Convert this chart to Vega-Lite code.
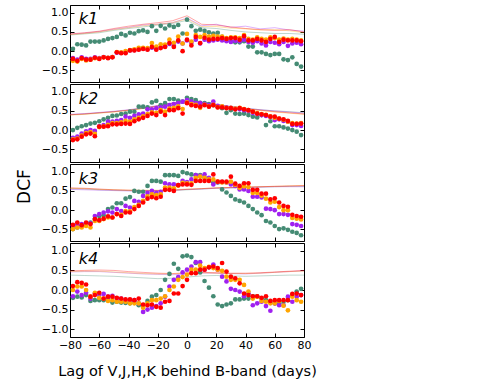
{
"$schema": "https://vega.github.io/schema/vega-lite/v6.json",
"padding": {"left": 14, "top": 4, "right": 5, "bottom": 5},
"spacing": 0,
"config": {
  "font": "DejaVu Sans",
  "view": {"stroke": "#000000", "strokeWidth": 1},
  "axis": {"domain": false, "grid": false, "tickColor": "#000000", "tickSize": -4, "tickWidth": 1, "labelColor": "#000000", "labelFontSize": 11, "labelPadding": 6, "labelOverlap": false, "labelFlush": false, "titleColor": "#000000", "titleFontWeight": "normal"},
  "concat": {"spacing": 0}
},
"datasets": {
"sig": [
{"k":1,"b":"V","x":-80,"y":0.42},{"k":1,"b":"V","x":-70,"y":0.45},{"k":1,"b":"V","x":-60,"y":0.48},{"k":1,"b":"V","x":-50,"y":0.54},{"k":1,"b":"V","x":-40,"y":0.59},{"k":1,"b":"V","x":-30,"y":0.63},{"k":1,"b":"V","x":-20,"y":0.68},{"k":1,"b":"V","x":-10,"y":0.72},{"k":1,"b":"V","x":0,"y":0.80},{"k":1,"b":"V","x":10,"y":0.61},{"k":1,"b":"V","x":20,"y":0.59},{"k":1,"b":"V","x":30,"y":0.54},{"k":1,"b":"V","x":40,"y":0.50},{"k":1,"b":"V","x":50,"y":0.48},{"k":1,"b":"V","x":60,"y":0.46},{"k":1,"b":"V","x":70,"y":0.46},{"k":1,"b":"V","x":80,"y":0.44},
{"k":1,"b":"J","x":-80,"y":0.44},{"k":1,"b":"J","x":-70,"y":0.47},{"k":1,"b":"J","x":-60,"y":0.51},{"k":1,"b":"J","x":-50,"y":0.57},{"k":1,"b":"J","x":-40,"y":0.62},{"k":1,"b":"J","x":-30,"y":0.68},{"k":1,"b":"J","x":-20,"y":0.70},{"k":1,"b":"J","x":-10,"y":0.74},{"k":1,"b":"J","x":0,"y":0.86},{"k":1,"b":"J","x":10,"y":0.66},{"k":1,"b":"J","x":20,"y":0.70},{"k":1,"b":"J","x":30,"y":0.62},{"k":1,"b":"J","x":40,"y":0.65},{"k":1,"b":"J","x":50,"y":0.58},{"k":1,"b":"J","x":60,"y":0.61},{"k":1,"b":"J","x":70,"y":0.55},{"k":1,"b":"J","x":80,"y":0.52},
{"k":1,"b":"H","x":-80,"y":0.43},{"k":1,"b":"H","x":-70,"y":0.46},{"k":1,"b":"H","x":-60,"y":0.50},{"k":1,"b":"H","x":-50,"y":0.56},{"k":1,"b":"H","x":-40,"y":0.61},{"k":1,"b":"H","x":-30,"y":0.66},{"k":1,"b":"H","x":-20,"y":0.70},{"k":1,"b":"H","x":-10,"y":0.74},{"k":1,"b":"H","x":0,"y":0.84},{"k":1,"b":"H","x":10,"y":0.64},{"k":1,"b":"H","x":20,"y":0.64},{"k":1,"b":"H","x":30,"y":0.60},{"k":1,"b":"H","x":40,"y":0.58},{"k":1,"b":"H","x":50,"y":0.55},{"k":1,"b":"H","x":60,"y":0.56},{"k":1,"b":"H","x":70,"y":0.53},{"k":1,"b":"H","x":80,"y":0.48},
{"k":1,"b":"K","x":-80,"y":0.45},{"k":1,"b":"K","x":-70,"y":0.48},{"k":1,"b":"K","x":-60,"y":0.52},{"k":1,"b":"K","x":-50,"y":0.59},{"k":1,"b":"K","x":-40,"y":0.65},{"k":1,"b":"K","x":-30,"y":0.70},{"k":1,"b":"K","x":-20,"y":0.74},{"k":1,"b":"K","x":-10,"y":0.79},{"k":1,"b":"K","x":0,"y":0.92},{"k":1,"b":"K","x":10,"y":0.70},{"k":1,"b":"K","x":20,"y":0.68},{"k":1,"b":"K","x":30,"y":0.63},{"k":1,"b":"K","x":40,"y":0.59},{"k":1,"b":"K","x":50,"y":0.56},{"k":1,"b":"K","x":60,"y":0.54},{"k":1,"b":"K","x":70,"y":0.56},{"k":1,"b":"K","x":80,"y":0.50},
{"k":2,"b":"V","x":-80,"y":0.40},{"k":2,"b":"V","x":-70,"y":0.42},{"k":2,"b":"V","x":-60,"y":0.45},{"k":2,"b":"V","x":-50,"y":0.48},{"k":2,"b":"V","x":-40,"y":0.52},{"k":2,"b":"V","x":-30,"y":0.57},{"k":2,"b":"V","x":-20,"y":0.63},{"k":2,"b":"V","x":-10,"y":0.70},{"k":2,"b":"V","x":0,"y":0.76},{"k":2,"b":"V","x":10,"y":0.72},{"k":2,"b":"V","x":20,"y":0.66},{"k":2,"b":"V","x":30,"y":0.61},{"k":2,"b":"V","x":40,"y":0.57},{"k":2,"b":"V","x":50,"y":0.53},{"k":2,"b":"V","x":60,"y":0.50},{"k":2,"b":"V","x":70,"y":0.48},{"k":2,"b":"V","x":80,"y":0.45},
{"k":2,"b":"J","x":-80,"y":0.41},{"k":2,"b":"J","x":-70,"y":0.43},{"k":2,"b":"J","x":-60,"y":0.46},{"k":2,"b":"J","x":-50,"y":0.49},{"k":2,"b":"J","x":-40,"y":0.53},{"k":2,"b":"J","x":-30,"y":0.58},{"k":2,"b":"J","x":-20,"y":0.64},{"k":2,"b":"J","x":-10,"y":0.71},{"k":2,"b":"J","x":0,"y":0.77},{"k":2,"b":"J","x":10,"y":0.73},{"k":2,"b":"J","x":20,"y":0.67},{"k":2,"b":"J","x":30,"y":0.61},{"k":2,"b":"J","x":40,"y":0.57},{"k":2,"b":"J","x":50,"y":0.53},{"k":2,"b":"J","x":60,"y":0.50},{"k":2,"b":"J","x":70,"y":0.47},{"k":2,"b":"J","x":80,"y":0.44},
{"k":2,"b":"H","x":-80,"y":0.39},{"k":2,"b":"H","x":-70,"y":0.41},{"k":2,"b":"H","x":-60,"y":0.44},{"k":2,"b":"H","x":-50,"y":0.47},{"k":2,"b":"H","x":-40,"y":0.51},{"k":2,"b":"H","x":-30,"y":0.56},{"k":2,"b":"H","x":-20,"y":0.62},{"k":2,"b":"H","x":-10,"y":0.69},{"k":2,"b":"H","x":0,"y":0.75},{"k":2,"b":"H","x":10,"y":0.71},{"k":2,"b":"H","x":20,"y":0.65},{"k":2,"b":"H","x":30,"y":0.60},{"k":2,"b":"H","x":40,"y":0.55},{"k":2,"b":"H","x":50,"y":0.51},{"k":2,"b":"H","x":60,"y":0.47},{"k":2,"b":"H","x":70,"y":0.44},{"k":2,"b":"H","x":80,"y":0.41},
{"k":2,"b":"K","x":-80,"y":0.40},{"k":2,"b":"K","x":-70,"y":0.42},{"k":2,"b":"K","x":-60,"y":0.45},{"k":2,"b":"K","x":-50,"y":0.48},{"k":2,"b":"K","x":-40,"y":0.52},{"k":2,"b":"K","x":-30,"y":0.57},{"k":2,"b":"K","x":-20,"y":0.63},{"k":2,"b":"K","x":-10,"y":0.70},{"k":2,"b":"K","x":0,"y":0.76},{"k":2,"b":"K","x":10,"y":0.72},{"k":2,"b":"K","x":20,"y":0.66},{"k":2,"b":"K","x":30,"y":0.60},{"k":2,"b":"K","x":40,"y":0.55},{"k":2,"b":"K","x":50,"y":0.52},{"k":2,"b":"K","x":60,"y":0.48},{"k":2,"b":"K","x":70,"y":0.45},{"k":2,"b":"K","x":80,"y":0.42},
{"k":3,"b":"V","x":-80,"y":0.56},{"k":3,"b":"V","x":-70,"y":0.55},{"k":3,"b":"V","x":-60,"y":0.53},{"k":3,"b":"V","x":-50,"y":0.52},{"k":3,"b":"V","x":-40,"y":0.51},{"k":3,"b":"V","x":-30,"y":0.50},{"k":3,"b":"V","x":-20,"y":0.50},{"k":3,"b":"V","x":-10,"y":0.51},{"k":3,"b":"V","x":0,"y":0.53},{"k":3,"b":"V","x":10,"y":0.55},{"k":3,"b":"V","x":20,"y":0.57},{"k":3,"b":"V","x":30,"y":0.58},{"k":3,"b":"V","x":40,"y":0.59},{"k":3,"b":"V","x":50,"y":0.60},{"k":3,"b":"V","x":60,"y":0.61},{"k":3,"b":"V","x":70,"y":0.62},{"k":3,"b":"V","x":80,"y":0.62},
{"k":3,"b":"J","x":-80,"y":0.54},{"k":3,"b":"J","x":-70,"y":0.53},{"k":3,"b":"J","x":-60,"y":0.52},{"k":3,"b":"J","x":-50,"y":0.51},{"k":3,"b":"J","x":-40,"y":0.50},{"k":3,"b":"J","x":-30,"y":0.50},{"k":3,"b":"J","x":-20,"y":0.51},{"k":3,"b":"J","x":-10,"y":0.52},{"k":3,"b":"J","x":0,"y":0.54},{"k":3,"b":"J","x":10,"y":0.55},{"k":3,"b":"J","x":20,"y":0.57},{"k":3,"b":"J","x":30,"y":0.58},{"k":3,"b":"J","x":40,"y":0.59},{"k":3,"b":"J","x":50,"y":0.60},{"k":3,"b":"J","x":60,"y":0.61},{"k":3,"b":"J","x":70,"y":0.61},{"k":3,"b":"J","x":80,"y":0.61},
{"k":3,"b":"H","x":-80,"y":0.57},{"k":3,"b":"H","x":-70,"y":0.56},{"k":3,"b":"H","x":-60,"y":0.54},{"k":3,"b":"H","x":-50,"y":0.53},{"k":3,"b":"H","x":-40,"y":0.52},{"k":3,"b":"H","x":-30,"y":0.52},{"k":3,"b":"H","x":-20,"y":0.52},{"k":3,"b":"H","x":-10,"y":0.53},{"k":3,"b":"H","x":0,"y":0.55},{"k":3,"b":"H","x":10,"y":0.56},{"k":3,"b":"H","x":20,"y":0.58},{"k":3,"b":"H","x":30,"y":0.59},{"k":3,"b":"H","x":40,"y":0.60},{"k":3,"b":"H","x":50,"y":0.61},{"k":3,"b":"H","x":60,"y":0.62},{"k":3,"b":"H","x":70,"y":0.63},{"k":3,"b":"H","x":80,"y":0.64},
{"k":3,"b":"K","x":-80,"y":0.58},{"k":3,"b":"K","x":-70,"y":0.57},{"k":3,"b":"K","x":-60,"y":0.55},{"k":3,"b":"K","x":-50,"y":0.53},{"k":3,"b":"K","x":-40,"y":0.52},{"k":3,"b":"K","x":-30,"y":0.51},{"k":3,"b":"K","x":-20,"y":0.51},{"k":3,"b":"K","x":-10,"y":0.52},{"k":3,"b":"K","x":0,"y":0.54},{"k":3,"b":"K","x":10,"y":0.56},{"k":3,"b":"K","x":20,"y":0.58},{"k":3,"b":"K","x":30,"y":0.59},{"k":3,"b":"K","x":40,"y":0.60},{"k":3,"b":"K","x":50,"y":0.61},{"k":3,"b":"K","x":60,"y":0.62},{"k":3,"b":"K","x":70,"y":0.63},{"k":3,"b":"K","x":80,"y":0.64},
{"k":4,"b":"V","x":-80,"y":0.38},{"k":4,"b":"V","x":-70,"y":0.37},{"k":4,"b":"V","x":-60,"y":0.36},{"k":4,"b":"V","x":-50,"y":0.35},{"k":4,"b":"V","x":-40,"y":0.33},{"k":4,"b":"V","x":-30,"y":0.31},{"k":4,"b":"V","x":-20,"y":0.29},{"k":4,"b":"V","x":-10,"y":0.30},{"k":4,"b":"V","x":0,"y":0.33},{"k":4,"b":"V","x":10,"y":0.36},{"k":4,"b":"V","x":20,"y":0.37},{"k":4,"b":"V","x":30,"y":0.36},{"k":4,"b":"V","x":40,"y":0.35},{"k":4,"b":"V","x":50,"y":0.36},{"k":4,"b":"V","x":60,"y":0.37},{"k":4,"b":"V","x":70,"y":0.38},{"k":4,"b":"V","x":80,"y":0.38},
{"k":4,"b":"J","x":-80,"y":0.46},{"k":4,"b":"J","x":-70,"y":0.47},{"k":4,"b":"J","x":-60,"y":0.47},{"k":4,"b":"J","x":-50,"y":0.45},{"k":4,"b":"J","x":-40,"y":0.43},{"k":4,"b":"J","x":-30,"y":0.41},{"k":4,"b":"J","x":-20,"y":0.40},{"k":4,"b":"J","x":-10,"y":0.39},{"k":4,"b":"J","x":0,"y":0.41},{"k":4,"b":"J","x":10,"y":0.43},{"k":4,"b":"J","x":20,"y":0.43},{"k":4,"b":"J","x":30,"y":0.42},{"k":4,"b":"J","x":40,"y":0.41},{"k":4,"b":"J","x":50,"y":0.43},{"k":4,"b":"J","x":60,"y":0.45},{"k":4,"b":"J","x":70,"y":0.47},{"k":4,"b":"J","x":80,"y":0.49},
{"k":4,"b":"H","x":-80,"y":0.47},{"k":4,"b":"H","x":-70,"y":0.48},{"k":4,"b":"H","x":-60,"y":0.48},{"k":4,"b":"H","x":-50,"y":0.46},{"k":4,"b":"H","x":-40,"y":0.44},{"k":4,"b":"H","x":-30,"y":0.42},{"k":4,"b":"H","x":-20,"y":0.41},{"k":4,"b":"H","x":-10,"y":0.41},{"k":4,"b":"H","x":0,"y":0.43},{"k":4,"b":"H","x":10,"y":0.44},{"k":4,"b":"H","x":20,"y":0.43},{"k":4,"b":"H","x":30,"y":0.42},{"k":4,"b":"H","x":40,"y":0.42},{"k":4,"b":"H","x":50,"y":0.43},{"k":4,"b":"H","x":60,"y":0.45},{"k":4,"b":"H","x":70,"y":0.47},{"k":4,"b":"H","x":80,"y":0.48},
{"k":4,"b":"K","x":-80,"y":0.49},{"k":4,"b":"K","x":-70,"y":0.50},{"k":4,"b":"K","x":-60,"y":0.51},{"k":4,"b":"K","x":-50,"y":0.50},{"k":4,"b":"K","x":-40,"y":0.47},{"k":4,"b":"K","x":-30,"y":0.45},{"k":4,"b":"K","x":-20,"y":0.43},{"k":4,"b":"K","x":-10,"y":0.42},{"k":4,"b":"K","x":0,"y":0.44},{"k":4,"b":"K","x":10,"y":0.45},{"k":4,"b":"K","x":20,"y":0.44},{"k":4,"b":"K","x":30,"y":0.43},{"k":4,"b":"K","x":40,"y":0.43},{"k":4,"b":"K","x":50,"y":0.44},{"k":4,"b":"K","x":60,"y":0.46},{"k":4,"b":"K","x":70,"y":0.48},{"k":4,"b":"K","x":80,"y":0.50}
],
"pts": [
{"k":1,"b":"V","x":-78,"y":0.06},{"k":1,"b":"V","x":-75,"y":0.18},{"k":1,"b":"V","x":-72,"y":0.17},{"k":1,"b":"V","x":-69,"y":0.15},{"k":1,"b":"V","x":-66,"y":0.25},{"k":1,"b":"V","x":-63,"y":0.25},{"k":1,"b":"V","x":-60,"y":0.25},{"k":1,"b":"V","x":-57,"y":0.28},{"k":1,"b":"V","x":-54,"y":0.32},{"k":1,"b":"V","x":-51,"y":0.34},
{"k":1,"b":"V","x":-48,"y":0.37},{"k":1,"b":"V","x":-45,"y":0.45},{"k":1,"b":"V","x":-42,"y":0.41},{"k":1,"b":"V","x":-39,"y":0.48},{"k":1,"b":"V","x":-36,"y":0.46},{"k":1,"b":"V","x":-33,"y":0.52},{"k":1,"b":"V","x":-30,"y":0.54},{"k":1,"b":"V","x":-27,"y":0.50},{"k":1,"b":"V","x":-24,"y":0.65},{"k":1,"b":"V","x":-21,"y":0.53},
{"k":1,"b":"V","x":-18,"y":0.66},{"k":1,"b":"V","x":-15,"y":0.59},{"k":1,"b":"V","x":-12,"y":0.67},{"k":1,"b":"V","x":-9,"y":0.63},{"k":1,"b":"V","x":-6,"y":0.68},{"k":1,"b":"V","x":-3,"y":0.46},{"k":1,"b":"V","x":0,"y":0.82},{"k":1,"b":"V","x":3,"y":0.65},{"k":1,"b":"V","x":6,"y":0.53},{"k":1,"b":"V","x":9,"y":0.56},
{"k":1,"b":"V","x":12,"y":0.53},{"k":1,"b":"V","x":15,"y":0.49},{"k":1,"b":"V","x":18,"y":0.46},{"k":1,"b":"V","x":21,"y":0.48},{"k":1,"b":"V","x":24,"y":0.37},{"k":1,"b":"V","x":27,"y":0.30},{"k":1,"b":"V","x":30,"y":0.25},{"k":1,"b":"V","x":33,"y":0.23},{"k":1,"b":"V","x":36,"y":0.23},{"k":1,"b":"V","x":39,"y":0.26},
{"k":1,"b":"V","x":42,"y":0.12},{"k":1,"b":"V","x":45,"y":0.12},{"k":1,"b":"V","x":48,"y":-0.03},{"k":1,"b":"V","x":51,"y":-0.03},{"k":1,"b":"V","x":54,"y":-0.07},{"k":1,"b":"V","x":57,"y":-0.10},{"k":1,"b":"V","x":60,"y":-0.07},{"k":1,"b":"V","x":63,"y":-0.07},{"k":1,"b":"V","x":66,"y":-0.21},{"k":1,"b":"V","x":69,"y":-0.23},
{"k":1,"b":"V","x":72,"y":-0.16},{"k":1,"b":"V","x":75,"y":-0.33},{"k":1,"b":"V","x":78,"y":-0.40},
{"k":1,"b":"J","x":-78,"y":-0.18},{"k":1,"b":"J","x":-75,"y":-0.22},{"k":1,"b":"J","x":-72,"y":-0.16},{"k":1,"b":"J","x":-69,"y":-0.20},{"k":1,"b":"J","x":-66,"y":-0.20},{"k":1,"b":"J","x":-63,"y":-0.16},{"k":1,"b":"J","x":-60,"y":-0.18},{"k":1,"b":"J","x":-57,"y":-0.15},{"k":1,"b":"J","x":-54,"y":-0.17},{"k":1,"b":"J","x":-51,"y":-0.15},
{"k":1,"b":"J","x":-48,"y":-0.04},{"k":1,"b":"J","x":-45,"y":-0.04},{"k":1,"b":"J","x":-42,"y":-0.03},{"k":1,"b":"J","x":-39,"y":0.02},{"k":1,"b":"J","x":-36,"y":0.03},{"k":1,"b":"J","x":-33,"y":0.05},{"k":1,"b":"J","x":-30,"y":0.07},{"k":1,"b":"J","x":-27,"y":0.05},{"k":1,"b":"J","x":-24,"y":0.09},{"k":1,"b":"J","x":-21,"y":0.06},
{"k":1,"b":"J","x":-18,"y":0.10},{"k":1,"b":"J","x":-15,"y":0.13},{"k":1,"b":"J","x":-12,"y":0.19},{"k":1,"b":"J","x":-9,"y":0.14},{"k":1,"b":"J","x":-6,"y":0.25},{"k":1,"b":"J","x":-3,"y":0.20},{"k":1,"b":"J","x":0,"y":0.28},{"k":1,"b":"J","x":3,"y":0.22},{"k":1,"b":"J","x":6,"y":0.30},{"k":1,"b":"J","x":9,"y":0.20},
{"k":1,"b":"J","x":12,"y":0.30},{"k":1,"b":"J","x":15,"y":0.26},{"k":1,"b":"J","x":18,"y":0.28},{"k":1,"b":"J","x":21,"y":0.30},{"k":1,"b":"J","x":24,"y":0.28},{"k":1,"b":"J","x":27,"y":0.26},{"k":1,"b":"J","x":30,"y":0.24},{"k":1,"b":"J","x":33,"y":0.27},{"k":1,"b":"J","x":36,"y":0.26},{"k":1,"b":"J","x":39,"y":0.30},
{"k":1,"b":"J","x":42,"y":0.24},{"k":1,"b":"J","x":45,"y":0.22},{"k":1,"b":"J","x":48,"y":0.26},{"k":1,"b":"J","x":51,"y":0.20},{"k":1,"b":"J","x":54,"y":0.15},{"k":1,"b":"J","x":57,"y":0.24},{"k":1,"b":"J","x":60,"y":0.22},{"k":1,"b":"J","x":63,"y":0.18},{"k":1,"b":"J","x":66,"y":0.24},{"k":1,"b":"J","x":69,"y":0.14},
{"k":1,"b":"J","x":72,"y":0.20},{"k":1,"b":"J","x":75,"y":0.22},{"k":1,"b":"J","x":78,"y":0.18},
{"k":1,"b":"H","x":-78,"y":-0.25},{"k":1,"b":"H","x":-75,"y":-0.27},{"k":1,"b":"H","x":-72,"y":-0.20},{"k":1,"b":"H","x":-69,"y":-0.24},{"k":1,"b":"H","x":-66,"y":-0.22},{"k":1,"b":"H","x":-63,"y":-0.18},{"k":1,"b":"H","x":-60,"y":-0.19},{"k":1,"b":"H","x":-57,"y":-0.16},{"k":1,"b":"H","x":-54,"y":-0.17},{"k":1,"b":"H","x":-51,"y":-0.15},
{"k":1,"b":"H","x":-48,"y":-0.02},{"k":1,"b":"H","x":-45,"y":-0.03},{"k":1,"b":"H","x":-42,"y":0},{"k":1,"b":"H","x":-39,"y":0.03},{"k":1,"b":"H","x":-36,"y":0.05},{"k":1,"b":"H","x":-33,"y":0.09},{"k":1,"b":"H","x":-30,"y":0.09},{"k":1,"b":"H","x":-27,"y":0.08},{"k":1,"b":"H","x":-24,"y":0.21},{"k":1,"b":"H","x":-21,"y":0.12},
{"k":1,"b":"H","x":-18,"y":0.18},{"k":1,"b":"H","x":-15,"y":0.17},{"k":1,"b":"H","x":-12,"y":0.30},{"k":1,"b":"H","x":-9,"y":0.22},{"k":1,"b":"H","x":-6,"y":0.38},{"k":1,"b":"H","x":-3,"y":0.20},{"k":1,"b":"H","x":0,"y":0.45},{"k":1,"b":"H","x":3,"y":0.25},{"k":1,"b":"H","x":6,"y":0.42},{"k":1,"b":"H","x":9,"y":0.37},
{"k":1,"b":"H","x":12,"y":0.42},{"k":1,"b":"H","x":15,"y":0.38},{"k":1,"b":"H","x":18,"y":0.40},{"k":1,"b":"H","x":21,"y":0.38},{"k":1,"b":"H","x":24,"y":0.38},{"k":1,"b":"H","x":27,"y":0.34},{"k":1,"b":"H","x":30,"y":0.36},{"k":1,"b":"H","x":33,"y":0.36},{"k":1,"b":"H","x":36,"y":0.34},{"k":1,"b":"H","x":39,"y":0.42},
{"k":1,"b":"H","x":42,"y":0.32},{"k":1,"b":"H","x":45,"y":0.30},{"k":1,"b":"H","x":48,"y":0.36},{"k":1,"b":"H","x":51,"y":0.32},{"k":1,"b":"H","x":54,"y":0.30},{"k":1,"b":"H","x":57,"y":0.36},{"k":1,"b":"H","x":60,"y":0.34},{"k":1,"b":"H","x":63,"y":0.30},{"k":1,"b":"H","x":66,"y":0.33},{"k":1,"b":"H","x":69,"y":0.30},
{"k":1,"b":"H","x":72,"y":0.32},{"k":1,"b":"H","x":75,"y":0.30},{"k":1,"b":"H","x":78,"y":0.28},
{"k":1,"b":"K","x":-78,"y":-0.20},{"k":1,"b":"K","x":-75,"y":-0.25},{"k":1,"b":"K","x":-72,"y":-0.18},{"k":1,"b":"K","x":-69,"y":-0.22},{"k":1,"b":"K","x":-66,"y":-0.22},{"k":1,"b":"K","x":-63,"y":-0.17},{"k":1,"b":"K","x":-60,"y":-0.20},{"k":1,"b":"K","x":-57,"y":-0.16},{"k":1,"b":"K","x":-54,"y":-0.18},{"k":1,"b":"K","x":-51,"y":-0.16},
{"k":1,"b":"K","x":-48,"y":-0.03},{"k":1,"b":"K","x":-45,"y":-0.05},{"k":1,"b":"K","x":-42,"y":-0.05},{"k":1,"b":"K","x":-39,"y":0.02},{"k":1,"b":"K","x":-36,"y":0.02},{"k":1,"b":"K","x":-33,"y":0.04},{"k":1,"b":"K","x":-30,"y":0.06},{"k":1,"b":"K","x":-27,"y":0.04},{"k":1,"b":"K","x":-24,"y":0.11},{"k":1,"b":"K","x":-21,"y":0.04},
{"k":1,"b":"K","x":-18,"y":0.08},{"k":1,"b":"K","x":-15,"y":0.11},{"k":1,"b":"K","x":-12,"y":0.21},{"k":1,"b":"K","x":-9,"y":0.11},{"k":1,"b":"K","x":-6,"y":0.28},{"k":1,"b":"K","x":-3,"y":0},{"k":1,"b":"K","x":0,"y":0.30},{"k":1,"b":"K","x":3,"y":0.15},{"k":1,"b":"K","x":6,"y":0.37},{"k":1,"b":"K","x":9,"y":0.21},
{"k":1,"b":"K","x":12,"y":0.35},{"k":1,"b":"K","x":15,"y":0.30},{"k":1,"b":"K","x":18,"y":0.32},{"k":1,"b":"K","x":21,"y":0.32},{"k":1,"b":"K","x":24,"y":0.34},{"k":1,"b":"K","x":27,"y":0.32},{"k":1,"b":"K","x":30,"y":0.34},{"k":1,"b":"K","x":33,"y":0.34},{"k":1,"b":"K","x":36,"y":0.30},{"k":1,"b":"K","x":39,"y":0.39},
{"k":1,"b":"K","x":42,"y":0.28},{"k":1,"b":"K","x":45,"y":0.28},{"k":1,"b":"K","x":48,"y":0.32},{"k":1,"b":"K","x":51,"y":0.28},{"k":1,"b":"K","x":54,"y":0.24},{"k":1,"b":"K","x":57,"y":0.32},{"k":1,"b":"K","x":60,"y":0.37},{"k":1,"b":"K","x":63,"y":0.24},{"k":1,"b":"K","x":66,"y":0.30},{"k":1,"b":"K","x":69,"y":0.28},
{"k":1,"b":"K","x":72,"y":0.28},{"k":1,"b":"K","x":75,"y":0.28},{"k":1,"b":"K","x":78,"y":0.26},
{"k":2,"b":"V","x":-78,"y":0},{"k":2,"b":"V","x":-75,"y":0.06},{"k":2,"b":"V","x":-72,"y":0.10},{"k":2,"b":"V","x":-69,"y":0.13},{"k":2,"b":"V","x":-66,"y":0.17},{"k":2,"b":"V","x":-63,"y":0.19},{"k":2,"b":"V","x":-60,"y":0.23},{"k":2,"b":"V","x":-57,"y":0.28},{"k":2,"b":"V","x":-54,"y":0.32},{"k":2,"b":"V","x":-51,"y":0.37},
{"k":2,"b":"V","x":-48,"y":0.38},{"k":2,"b":"V","x":-45,"y":0.42},{"k":2,"b":"V","x":-42,"y":0.43},{"k":2,"b":"V","x":-39,"y":0.48},{"k":2,"b":"V","x":-36,"y":0.48},{"k":2,"b":"V","x":-33,"y":0.61},{"k":2,"b":"V","x":-30,"y":0.61},{"k":2,"b":"V","x":-27,"y":0.59},{"k":2,"b":"V","x":-24,"y":0.72},{"k":2,"b":"V","x":-21,"y":0.76},
{"k":2,"b":"V","x":-18,"y":0.65},{"k":2,"b":"V","x":-15,"y":0.70},{"k":2,"b":"V","x":-12,"y":0.81},{"k":2,"b":"V","x":-9,"y":0.81},{"k":2,"b":"V","x":-6,"y":0.77},{"k":2,"b":"V","x":-3,"y":0.74},{"k":2,"b":"V","x":0,"y":0.84},{"k":2,"b":"V","x":3,"y":0.81},{"k":2,"b":"V","x":6,"y":0.78},{"k":2,"b":"V","x":9,"y":0.71},
{"k":2,"b":"V","x":12,"y":0.70},{"k":2,"b":"V","x":15,"y":0.68},{"k":2,"b":"V","x":18,"y":0.65},{"k":2,"b":"V","x":21,"y":0.61},{"k":2,"b":"V","x":24,"y":0.57},{"k":2,"b":"V","x":27,"y":0.45},{"k":2,"b":"V","x":30,"y":0.52},{"k":2,"b":"V","x":33,"y":0.43},{"k":2,"b":"V","x":36,"y":0.42},{"k":2,"b":"V","x":39,"y":0.43},
{"k":2,"b":"V","x":42,"y":0.39},{"k":2,"b":"V","x":45,"y":0.35},{"k":2,"b":"V","x":48,"y":0.33},{"k":2,"b":"V","x":51,"y":0.39},{"k":2,"b":"V","x":54,"y":0.13},{"k":2,"b":"V","x":57,"y":0.23},{"k":2,"b":"V","x":60,"y":0.10},{"k":2,"b":"V","x":63,"y":0.10},{"k":2,"b":"V","x":66,"y":0.07},{"k":2,"b":"V","x":69,"y":0.04},
{"k":2,"b":"V","x":72,"y":0},{"k":2,"b":"V","x":75,"y":-0.04},{"k":2,"b":"V","x":78,"y":-0.13},
{"k":2,"b":"J","x":-78,"y":-0.20},{"k":2,"b":"J","x":-75,"y":-0.17},{"k":2,"b":"J","x":-72,"y":-0.09},{"k":2,"b":"J","x":-69,"y":-0.03},{"k":2,"b":"J","x":-66,"y":0},{"k":2,"b":"J","x":-63,"y":-0.02},{"k":2,"b":"J","x":-60,"y":0.10},{"k":2,"b":"J","x":-57,"y":0.13},{"k":2,"b":"J","x":-54,"y":0.22},{"k":2,"b":"J","x":-51,"y":0.22},
{"k":2,"b":"J","x":-48,"y":0.24},{"k":2,"b":"J","x":-45,"y":0.26},{"k":2,"b":"J","x":-42,"y":0.35},{"k":2,"b":"J","x":-39,"y":0.32},{"k":2,"b":"J","x":-36,"y":0.37},{"k":2,"b":"J","x":-33,"y":0.41},{"k":2,"b":"J","x":-30,"y":0.43},{"k":2,"b":"J","x":-27,"y":0.54},{"k":2,"b":"J","x":-24,"y":0.54},{"k":2,"b":"J","x":-21,"y":0.57},
{"k":2,"b":"J","x":-18,"y":0.59},{"k":2,"b":"J","x":-15,"y":0.61},{"k":2,"b":"J","x":-12,"y":0.65},{"k":2,"b":"J","x":-9,"y":0.68},{"k":2,"b":"J","x":-6,"y":0.70},{"k":2,"b":"J","x":-3,"y":0.74},{"k":2,"b":"J","x":0,"y":0.78},{"k":2,"b":"J","x":3,"y":0.74},{"k":2,"b":"J","x":6,"y":0.70},{"k":2,"b":"J","x":9,"y":0.70},
{"k":2,"b":"J","x":12,"y":0.68},{"k":2,"b":"J","x":15,"y":0.65},{"k":2,"b":"J","x":18,"y":0.74},{"k":2,"b":"J","x":21,"y":0.63},{"k":2,"b":"J","x":24,"y":0.61},{"k":2,"b":"J","x":27,"y":0.59},{"k":2,"b":"J","x":30,"y":0.58},{"k":2,"b":"J","x":33,"y":0.56},{"k":2,"b":"J","x":36,"y":0.54},{"k":2,"b":"J","x":39,"y":0.52},
{"k":2,"b":"J","x":42,"y":0.50},{"k":2,"b":"J","x":45,"y":0.45},{"k":2,"b":"J","x":48,"y":0.42},{"k":2,"b":"J","x":51,"y":0.39},{"k":2,"b":"J","x":54,"y":0.37},{"k":2,"b":"J","x":57,"y":0.35},{"k":2,"b":"J","x":60,"y":0.26},{"k":2,"b":"J","x":63,"y":0.28},{"k":2,"b":"J","x":66,"y":0.24},{"k":2,"b":"J","x":69,"y":0.22},
{"k":2,"b":"J","x":72,"y":0.13},{"k":2,"b":"J","x":75,"y":0.13},{"k":2,"b":"J","x":78,"y":0.11},
{"k":2,"b":"H","x":-78,"y":-0.24},{"k":2,"b":"H","x":-75,"y":-0.22},{"k":2,"b":"H","x":-72,"y":-0.14},{"k":2,"b":"H","x":-69,"y":-0.08},{"k":2,"b":"H","x":-66,"y":-0.05},{"k":2,"b":"H","x":-63,"y":-0.10},{"k":2,"b":"H","x":-60,"y":0.08},{"k":2,"b":"H","x":-57,"y":0.10},{"k":2,"b":"H","x":-54,"y":0.14},{"k":2,"b":"H","x":-51,"y":0.18},
{"k":2,"b":"H","x":-48,"y":0.18},{"k":2,"b":"H","x":-45,"y":0.20},{"k":2,"b":"H","x":-42,"y":0.24},{"k":2,"b":"H","x":-39,"y":0.22},{"k":2,"b":"H","x":-36,"y":0.28},{"k":2,"b":"H","x":-33,"y":0.32},{"k":2,"b":"H","x":-30,"y":0.36},{"k":2,"b":"H","x":-27,"y":0.42},{"k":2,"b":"H","x":-24,"y":0.46},{"k":2,"b":"H","x":-21,"y":0.45},
{"k":2,"b":"H","x":-18,"y":0.52},{"k":2,"b":"H","x":-15,"y":0.48},{"k":2,"b":"H","x":-12,"y":0.56},{"k":2,"b":"H","x":-9,"y":0.58},{"k":2,"b":"H","x":-6,"y":0.62},{"k":2,"b":"H","x":-3,"y":0.55},{"k":2,"b":"H","x":0,"y":0.72},{"k":2,"b":"H","x":3,"y":0.68},{"k":2,"b":"H","x":6,"y":0.66},{"k":2,"b":"H","x":9,"y":0.58},
{"k":2,"b":"H","x":12,"y":0.66},{"k":2,"b":"H","x":15,"y":0.62},{"k":2,"b":"H","x":18,"y":0.66},{"k":2,"b":"H","x":21,"y":0.60},{"k":2,"b":"H","x":24,"y":0.62},{"k":2,"b":"H","x":27,"y":0.58},{"k":2,"b":"H","x":30,"y":0.58},{"k":2,"b":"H","x":33,"y":0.56},{"k":2,"b":"H","x":36,"y":0.58},{"k":2,"b":"H","x":39,"y":0.55},
{"k":2,"b":"H","x":42,"y":0.52},{"k":2,"b":"H","x":45,"y":0.48},{"k":2,"b":"H","x":48,"y":0.44},{"k":2,"b":"H","x":51,"y":0.42},{"k":2,"b":"H","x":54,"y":0.40},{"k":2,"b":"H","x":57,"y":0.36},{"k":2,"b":"H","x":60,"y":0.32},{"k":2,"b":"H","x":63,"y":0.30},{"k":2,"b":"H","x":66,"y":0.27},{"k":2,"b":"H","x":69,"y":0.22},
{"k":2,"b":"H","x":72,"y":0.18},{"k":2,"b":"H","x":75,"y":0.17},{"k":2,"b":"H","x":78,"y":0.18},
{"k":2,"b":"K","x":-78,"y":-0.26},{"k":2,"b":"K","x":-75,"y":-0.24},{"k":2,"b":"K","x":-72,"y":-0.17},{"k":2,"b":"K","x":-69,"y":-0.11},{"k":2,"b":"K","x":-66,"y":-0.09},{"k":2,"b":"K","x":-63,"y":-0.16},{"k":2,"b":"K","x":-60,"y":0.09},{"k":2,"b":"K","x":-57,"y":0.09},{"k":2,"b":"K","x":-54,"y":0.10},{"k":2,"b":"K","x":-51,"y":0.15},
{"k":2,"b":"K","x":-48,"y":0.15},{"k":2,"b":"K","x":-45,"y":0.16},{"k":2,"b":"K","x":-42,"y":0.17},{"k":2,"b":"K","x":-39,"y":0.16},{"k":2,"b":"K","x":-36,"y":0.23},{"k":2,"b":"K","x":-33,"y":0.28},{"k":2,"b":"K","x":-30,"y":0.32},{"k":2,"b":"K","x":-27,"y":0.37},{"k":2,"b":"K","x":-24,"y":0.43},{"k":2,"b":"K","x":-21,"y":0.39},
{"k":2,"b":"K","x":-18,"y":0.48},{"k":2,"b":"K","x":-15,"y":0.39},{"k":2,"b":"K","x":-12,"y":0.52},{"k":2,"b":"K","x":-9,"y":0.52},{"k":2,"b":"K","x":-6,"y":0.57},{"k":2,"b":"K","x":-3,"y":0.43},{"k":2,"b":"K","x":0,"y":0.70},{"k":2,"b":"K","x":3,"y":0.65},{"k":2,"b":"K","x":6,"y":0.63},{"k":2,"b":"K","x":9,"y":0.61},
{"k":2,"b":"K","x":12,"y":0.65},{"k":2,"b":"K","x":15,"y":0.61},{"k":2,"b":"K","x":18,"y":0.65},{"k":2,"b":"K","x":21,"y":0.59},{"k":2,"b":"K","x":24,"y":0.59},{"k":2,"b":"K","x":27,"y":0.57},{"k":2,"b":"K","x":30,"y":0.57},{"k":2,"b":"K","x":33,"y":0.54},{"k":2,"b":"K","x":36,"y":0.57},{"k":2,"b":"K","x":39,"y":0.54},
{"k":2,"b":"K","x":42,"y":0.52},{"k":2,"b":"K","x":45,"y":0.48},{"k":2,"b":"K","x":48,"y":0.43},{"k":2,"b":"K","x":51,"y":0.41},{"k":2,"b":"K","x":54,"y":0.39},{"k":2,"b":"K","x":57,"y":0.35},{"k":2,"b":"K","x":60,"y":0.35},{"k":2,"b":"K","x":63,"y":0.30},{"k":2,"b":"K","x":66,"y":0.28},{"k":2,"b":"K","x":69,"y":0.24},
{"k":2,"b":"K","x":72,"y":0.16},{"k":2,"b":"K","x":75,"y":0.16},{"k":2,"b":"K","x":78,"y":0.17},
{"k":3,"b":"V","x":-78,"y":-0.49},{"k":3,"b":"V","x":-75,"y":-0.45},{"k":3,"b":"V","x":-72,"y":-0.41},{"k":3,"b":"V","x":-69,"y":-0.36},{"k":3,"b":"V","x":-66,"y":-0.32},{"k":3,"b":"V","x":-63,"y":-0.23},{"k":3,"b":"V","x":-60,"y":-0.15},{"k":3,"b":"V","x":-57,"y":-0.13},{"k":3,"b":"V","x":-54,"y":0.03},{"k":3,"b":"V","x":-51,"y":0.07},
{"k":3,"b":"V","x":-48,"y":0.18},{"k":3,"b":"V","x":-45,"y":0.18},{"k":3,"b":"V","x":-42,"y":0.30},{"k":3,"b":"V","x":-39,"y":0.34},{"k":3,"b":"V","x":-36,"y":0.50},{"k":3,"b":"V","x":-33,"y":0.48},{"k":3,"b":"V","x":-30,"y":0.48},{"k":3,"b":"V","x":-27,"y":0.63},{"k":3,"b":"V","x":-24,"y":0.76},{"k":3,"b":"V","x":-21,"y":0.76},
{"k":3,"b":"V","x":-18,"y":0.74},{"k":3,"b":"V","x":-15,"y":0.91},{"k":3,"b":"V","x":-12,"y":0.91},{"k":3,"b":"V","x":-9,"y":0.91},{"k":3,"b":"V","x":-6,"y":0.89},{"k":3,"b":"V","x":-3,"y":0.99},{"k":3,"b":"V","x":0,"y":0.96},{"k":3,"b":"V","x":3,"y":0.93},{"k":3,"b":"V","x":6,"y":0.91},{"k":3,"b":"V","x":9,"y":0.91},
{"k":3,"b":"V","x":12,"y":0.84},{"k":3,"b":"V","x":15,"y":0.80},{"k":3,"b":"V","x":18,"y":0.72},{"k":3,"b":"V","x":21,"y":0.72},{"k":3,"b":"V","x":24,"y":0.54},{"k":3,"b":"V","x":27,"y":0.46},{"k":3,"b":"V","x":30,"y":0.37},{"k":3,"b":"V","x":33,"y":0.28},{"k":3,"b":"V","x":36,"y":0.24},{"k":3,"b":"V","x":39,"y":0.20},
{"k":3,"b":"V","x":42,"y":0.11},{"k":3,"b":"V","x":45,"y":0.03},{"k":3,"b":"V","x":48,"y":-0.06},{"k":3,"b":"V","x":51,"y":-0.13},{"k":3,"b":"V","x":54,"y":-0.28},{"k":3,"b":"V","x":57,"y":-0.32},{"k":3,"b":"V","x":60,"y":-0.41},{"k":3,"b":"V","x":63,"y":-0.49},{"k":3,"b":"V","x":66,"y":-0.47},{"k":3,"b":"V","x":69,"y":-0.51},
{"k":3,"b":"V","x":72,"y":-0.56},{"k":3,"b":"V","x":75,"y":-0.59},{"k":3,"b":"V","x":78,"y":-0.65},
{"k":3,"b":"J","x":-78,"y":-0.40},{"k":3,"b":"J","x":-75,"y":-0.38},{"k":3,"b":"J","x":-72,"y":-0.36},{"k":3,"b":"J","x":-69,"y":-0.36},{"k":3,"b":"J","x":-66,"y":-0.34},{"k":3,"b":"J","x":-63,"y":-0.15},{"k":3,"b":"J","x":-60,"y":-0.10},{"k":3,"b":"J","x":-57,"y":-0.06},{"k":3,"b":"J","x":-54,"y":-0.03},{"k":3,"b":"J","x":-51,"y":-0.06},
{"k":3,"b":"J","x":-48,"y":0.03},{"k":3,"b":"J","x":-45,"y":-0.02},{"k":3,"b":"J","x":-42,"y":0.11},{"k":3,"b":"J","x":-39,"y":0.07},{"k":3,"b":"J","x":-36,"y":0.24},{"k":3,"b":"J","x":-33,"y":0.22},{"k":3,"b":"J","x":-30,"y":0.37},{"k":3,"b":"J","x":-27,"y":0.45},{"k":3,"b":"J","x":-24,"y":0.50},{"k":3,"b":"J","x":-21,"y":0.45},
{"k":3,"b":"J","x":-18,"y":0.48},{"k":3,"b":"J","x":-15,"y":0.70},{"k":3,"b":"J","x":-12,"y":0.67},{"k":3,"b":"J","x":-9,"y":0.67},{"k":3,"b":"J","x":-6,"y":0.65},{"k":3,"b":"J","x":-3,"y":0.76},{"k":3,"b":"J","x":0,"y":0.73},{"k":3,"b":"J","x":3,"y":0.80},{"k":3,"b":"J","x":6,"y":0.91},{"k":3,"b":"J","x":9,"y":0.89},
{"k":3,"b":"J","x":12,"y":0.93},{"k":3,"b":"J","x":15,"y":0.84},{"k":3,"b":"J","x":18,"y":0.67},{"k":3,"b":"J","x":21,"y":0.73},{"k":3,"b":"J","x":24,"y":0.73},{"k":3,"b":"J","x":27,"y":0.72},{"k":3,"b":"J","x":30,"y":0.67},{"k":3,"b":"J","x":33,"y":0.63},{"k":3,"b":"J","x":36,"y":0.54},{"k":3,"b":"J","x":39,"y":0.54},
{"k":3,"b":"J","x":42,"y":0.50},{"k":3,"b":"J","x":45,"y":0.35},{"k":3,"b":"J","x":48,"y":0.35},{"k":3,"b":"J","x":51,"y":0.33},{"k":3,"b":"J","x":54,"y":0.04},{"k":3,"b":"J","x":57,"y":0.03},{"k":3,"b":"J","x":60,"y":0},{"k":3,"b":"J","x":63,"y":-0.10},{"k":3,"b":"J","x":66,"y":-0.10},{"k":3,"b":"J","x":69,"y":-0.12},
{"k":3,"b":"J","x":72,"y":-0.36},{"k":3,"b":"J","x":75,"y":-0.38},{"k":3,"b":"J","x":78,"y":-0.41},
{"k":3,"b":"H","x":-78,"y":-0.49},{"k":3,"b":"H","x":-75,"y":-0.45},{"k":3,"b":"H","x":-72,"y":-0.45},{"k":3,"b":"H","x":-69,"y":-0.41},{"k":3,"b":"H","x":-66,"y":-0.45},{"k":3,"b":"H","x":-63,"y":-0.28},{"k":3,"b":"H","x":-60,"y":-0.28},{"k":3,"b":"H","x":-57,"y":-0.23},{"k":3,"b":"H","x":-54,"y":-0.19},{"k":3,"b":"H","x":-51,"y":-0.19},
{"k":3,"b":"H","x":-48,"y":-0.10},{"k":3,"b":"H","x":-45,"y":-0.12},{"k":3,"b":"H","x":-42,"y":-0.02},{"k":3,"b":"H","x":-39,"y":-0.03},{"k":3,"b":"H","x":-36,"y":0.08},{"k":3,"b":"H","x":-33,"y":0.14},{"k":3,"b":"H","x":-30,"y":0.24},{"k":3,"b":"H","x":-27,"y":0.36},{"k":3,"b":"H","x":-24,"y":0.41},{"k":3,"b":"H","x":-21,"y":0.39},
{"k":3,"b":"H","x":-18,"y":0.41},{"k":3,"b":"H","x":-15,"y":0.59},{"k":3,"b":"H","x":-12,"y":0.59},{"k":3,"b":"H","x":-9,"y":0.57},{"k":3,"b":"H","x":-6,"y":0.64},{"k":3,"b":"H","x":-3,"y":0.71},{"k":3,"b":"H","x":0,"y":0.70},{"k":3,"b":"H","x":3,"y":0.70},{"k":3,"b":"H","x":6,"y":0.84},{"k":3,"b":"H","x":9,"y":0.87},
{"k":3,"b":"H","x":12,"y":0.84},{"k":3,"b":"H","x":15,"y":0.80},{"k":3,"b":"H","x":18,"y":0.80},{"k":3,"b":"H","x":21,"y":0.74},{"k":3,"b":"H","x":24,"y":0.72},{"k":3,"b":"H","x":27,"y":0.72},{"k":3,"b":"H","x":30,"y":0.74},{"k":3,"b":"H","x":33,"y":0.66},{"k":3,"b":"H","x":36,"y":0.58},{"k":3,"b":"H","x":39,"y":0.62},
{"k":3,"b":"H","x":42,"y":0.60},{"k":3,"b":"H","x":45,"y":0.45},{"k":3,"b":"H","x":48,"y":0.45},{"k":3,"b":"H","x":51,"y":0.38},{"k":3,"b":"H","x":54,"y":0.30},{"k":3,"b":"H","x":57,"y":0.20},{"k":3,"b":"H","x":60,"y":0.22},{"k":3,"b":"H","x":63,"y":0.08},{"k":3,"b":"H","x":66,"y":0},{"k":3,"b":"H","x":69,"y":0},
{"k":3,"b":"H","x":72,"y":-0.20},{"k":3,"b":"H","x":75,"y":-0.22},{"k":3,"b":"H","x":78,"y":-0.24},
{"k":3,"b":"K","x":-78,"y":-0.38},{"k":3,"b":"K","x":-75,"y":-0.32},{"k":3,"b":"K","x":-72,"y":-0.39},{"k":3,"b":"K","x":-69,"y":-0.32},{"k":3,"b":"K","x":-66,"y":-0.36},{"k":3,"b":"K","x":-63,"y":-0.23},{"k":3,"b":"K","x":-60,"y":-0.26},{"k":3,"b":"K","x":-57,"y":-0.22},{"k":3,"b":"K","x":-54,"y":-0.16},{"k":3,"b":"K","x":-51,"y":-0.19},
{"k":3,"b":"K","x":-48,"y":-0.10},{"k":3,"b":"K","x":-45,"y":-0.15},{"k":3,"b":"K","x":-42,"y":-0.06},{"k":3,"b":"K","x":-39,"y":-0.06},{"k":3,"b":"K","x":-36,"y":0.03},{"k":3,"b":"K","x":-33,"y":0.11},{"k":3,"b":"K","x":-30,"y":0.20},{"k":3,"b":"K","x":-27,"y":0.30},{"k":3,"b":"K","x":-24,"y":0.34},{"k":3,"b":"K","x":-21,"y":0.31},
{"k":3,"b":"K","x":-18,"y":0.35},{"k":3,"b":"K","x":-15,"y":0.53},{"k":3,"b":"K","x":-12,"y":0.53},{"k":3,"b":"K","x":-9,"y":0.50},{"k":3,"b":"K","x":-6,"y":0.65},{"k":3,"b":"K","x":-3,"y":0.67},{"k":3,"b":"K","x":0,"y":0.67},{"k":3,"b":"K","x":3,"y":0.66},{"k":3,"b":"K","x":6,"y":0.76},{"k":3,"b":"K","x":9,"y":0.76},
{"k":3,"b":"K","x":12,"y":0.76},{"k":3,"b":"K","x":15,"y":0.76},{"k":3,"b":"K","x":18,"y":0.93},{"k":3,"b":"K","x":21,"y":0.74},{"k":3,"b":"K","x":24,"y":0.74},{"k":3,"b":"K","x":27,"y":0.74},{"k":3,"b":"K","x":30,"y":0.87},{"k":3,"b":"K","x":33,"y":0.69},{"k":3,"b":"K","x":36,"y":0.63},{"k":3,"b":"K","x":39,"y":0.70},
{"k":3,"b":"K","x":42,"y":0.70},{"k":3,"b":"K","x":45,"y":0.53},{"k":3,"b":"K","x":48,"y":0.53},{"k":3,"b":"K","x":51,"y":0.43},{"k":3,"b":"K","x":54,"y":0.43},{"k":3,"b":"K","x":57,"y":0.28},{"k":3,"b":"K","x":60,"y":0.31},{"k":3,"b":"K","x":63,"y":0.20},{"k":3,"b":"K","x":66,"y":0.11},{"k":3,"b":"K","x":69,"y":0.09},
{"k":3,"b":"K","x":72,"y":-0.12},{"k":3,"b":"K","x":75,"y":-0.15},{"k":3,"b":"K","x":78,"y":-0.17},
{"k":4,"b":"V","x":-78,"y":-0.20},{"k":4,"b":"V","x":-75,"y":-0.17},{"k":4,"b":"V","x":-72,"y":-0.19},{"k":4,"b":"V","x":-69,"y":-0.13},{"k":4,"b":"V","x":-66,"y":-0.28},{"k":4,"b":"V","x":-63,"y":-0.26},{"k":4,"b":"V","x":-60,"y":-0.26},{"k":4,"b":"V","x":-57,"y":-0.26},{"k":4,"b":"V","x":-54,"y":-0.22},{"k":4,"b":"V","x":-51,"y":-0.32},
{"k":4,"b":"V","x":-48,"y":-0.30},{"k":4,"b":"V","x":-45,"y":-0.32},{"k":4,"b":"V","x":-42,"y":-0.33},{"k":4,"b":"V","x":-39,"y":-0.34},{"k":4,"b":"V","x":-36,"y":-0.30},{"k":4,"b":"V","x":-33,"y":-0.39},{"k":4,"b":"V","x":-30,"y":-0.41},{"k":4,"b":"V","x":-27,"y":-0.28},{"k":4,"b":"V","x":-24,"y":-0.17},{"k":4,"b":"V","x":-21,"y":-0.13},
{"k":4,"b":"V","x":-18,"y":0},{"k":4,"b":"V","x":-15,"y":0.26},{"k":4,"b":"V","x":-12,"y":0.41},{"k":4,"b":"V","x":-9,"y":0.67},{"k":4,"b":"V","x":-6,"y":0.54},{"k":4,"b":"V","x":-3,"y":0.86},{"k":4,"b":"V","x":0,"y":0.88},{"k":4,"b":"V","x":3,"y":0.84},{"k":4,"b":"V","x":6,"y":0.69},{"k":4,"b":"V","x":9,"y":0.45},
{"k":4,"b":"V","x":12,"y":0.23},{"k":4,"b":"V","x":15,"y":0.06},{"k":4,"b":"V","x":18,"y":-0.16},{"k":4,"b":"V","x":21,"y":-0.37},{"k":4,"b":"V","x":24,"y":-0.41},{"k":4,"b":"V","x":27,"y":-0.37},{"k":4,"b":"V","x":30,"y":-0.34},{"k":4,"b":"V","x":33,"y":-0.24},{"k":4,"b":"V","x":36,"y":-0.24},{"k":4,"b":"V","x":39,"y":-0.22},
{"k":4,"b":"V","x":42,"y":-0.22},{"k":4,"b":"V","x":45,"y":-0.16},{"k":4,"b":"V","x":48,"y":-0.16},{"k":4,"b":"V","x":51,"y":-0.22},{"k":4,"b":"V","x":54,"y":-0.26},{"k":4,"b":"V","x":57,"y":-0.30},{"k":4,"b":"V","x":60,"y":-0.34},{"k":4,"b":"V","x":63,"y":-0.34},{"k":4,"b":"V","x":66,"y":-0.30},{"k":4,"b":"V","x":69,"y":-0.26},
{"k":4,"b":"V","x":72,"y":-0.13},{"k":4,"b":"V","x":75,"y":-0.04},{"k":4,"b":"V","x":78,"y":0.03},
{"k":4,"b":"J","x":-78,"y":-0.16},{"k":4,"b":"J","x":-75,"y":-0.04},{"k":4,"b":"J","x":-72,"y":-0.13},{"k":4,"b":"J","x":-69,"y":-0.07},{"k":4,"b":"J","x":-66,"y":-0.22},{"k":4,"b":"J","x":-63,"y":-0.09},{"k":4,"b":"J","x":-60,"y":-0.13},{"k":4,"b":"J","x":-57,"y":-0.10},{"k":4,"b":"J","x":-54,"y":-0.17},{"k":4,"b":"J","x":-51,"y":-0.15},
{"k":4,"b":"J","x":-48,"y":-0.22},{"k":4,"b":"J","x":-45,"y":-0.22},{"k":4,"b":"J","x":-42,"y":-0.26},{"k":4,"b":"J","x":-39,"y":-0.26},{"k":4,"b":"J","x":-36,"y":-0.26},{"k":4,"b":"J","x":-33,"y":-0.34},{"k":4,"b":"J","x":-30,"y":-0.56},{"k":4,"b":"J","x":-27,"y":-0.50},{"k":4,"b":"J","x":-24,"y":-0.45},{"k":4,"b":"J","x":-21,"y":-0.41},
{"k":4,"b":"J","x":-18,"y":-0.34},{"k":4,"b":"J","x":-15,"y":-0.17},{"k":4,"b":"J","x":-12,"y":0.09},{"k":4,"b":"J","x":-9,"y":0.26},{"k":4,"b":"J","x":-6,"y":0.33},{"k":4,"b":"J","x":-3,"y":0.45},{"k":4,"b":"J","x":0,"y":0.52},{"k":4,"b":"J","x":3,"y":0.60},{"k":4,"b":"J","x":6,"y":0.71},{"k":4,"b":"J","x":9,"y":0.71},
{"k":4,"b":"J","x":12,"y":0.52},{"k":4,"b":"J","x":15,"y":0.58},{"k":4,"b":"J","x":18,"y":0.65},{"k":4,"b":"J","x":21,"y":0.52},{"k":4,"b":"J","x":24,"y":0.34},{"k":4,"b":"J","x":27,"y":0.22},{"k":4,"b":"J","x":30,"y":0.03},{"k":4,"b":"J","x":33,"y":0},{"k":4,"b":"J","x":36,"y":-0.04},{"k":4,"b":"J","x":39,"y":-0.16},
{"k":4,"b":"J","x":42,"y":-0.09},{"k":4,"b":"J","x":45,"y":-0.39},{"k":4,"b":"J","x":48,"y":-0.34},{"k":4,"b":"J","x":51,"y":-0.30},{"k":4,"b":"J","x":54,"y":-0.41},{"k":4,"b":"J","x":57,"y":-0.53},{"k":4,"b":"J","x":60,"y":-0.34},{"k":4,"b":"J","x":63,"y":-0.39},{"k":4,"b":"J","x":66,"y":-0.39},{"k":4,"b":"J","x":69,"y":-0.17},
{"k":4,"b":"J","x":72,"y":-0.30},{"k":4,"b":"J","x":75,"y":-0.17},{"k":4,"b":"J","x":78,"y":-0.13},
{"k":4,"b":"H","x":-78,"y":0},{"k":4,"b":"H","x":-75,"y":0.09},{"k":4,"b":"H","x":-72,"y":0.09},{"k":4,"b":"H","x":-69,"y":0},{"k":4,"b":"H","x":-66,"y":-0.17},{"k":4,"b":"H","x":-63,"y":-0.07},{"k":4,"b":"H","x":-60,"y":-0.20},{"k":4,"b":"H","x":-57,"y":-0.22},{"k":4,"b":"H","x":-54,"y":-0.28},{"k":4,"b":"H","x":-51,"y":-0.26},
{"k":4,"b":"H","x":-48,"y":-0.30},{"k":4,"b":"H","x":-45,"y":-0.30},{"k":4,"b":"H","x":-42,"y":-0.30},{"k":4,"b":"H","x":-39,"y":-0.34},{"k":4,"b":"H","x":-36,"y":-0.34},{"k":4,"b":"H","x":-33,"y":-0.34},{"k":4,"b":"H","x":-30,"y":-0.45},{"k":4,"b":"H","x":-27,"y":-0.34},{"k":4,"b":"H","x":-24,"y":-0.26},{"k":4,"b":"H","x":-21,"y":-0.26},
{"k":4,"b":"H","x":-18,"y":-0.22},{"k":4,"b":"H","x":-15,"y":-0.16},{"k":4,"b":"H","x":-12,"y":0},{"k":4,"b":"H","x":-9,"y":0.09},{"k":4,"b":"H","x":-6,"y":0.26},{"k":4,"b":"H","x":-3,"y":0.33},{"k":4,"b":"H","x":0,"y":0.39},{"k":4,"b":"H","x":3,"y":0.52},{"k":4,"b":"H","x":6,"y":0.52},{"k":4,"b":"H","x":9,"y":0.62},
{"k":4,"b":"H","x":12,"y":0.56},{"k":4,"b":"H","x":15,"y":0.59},{"k":4,"b":"H","x":18,"y":0.56},{"k":4,"b":"H","x":21,"y":0.52},{"k":4,"b":"H","x":24,"y":0.49},{"k":4,"b":"H","x":27,"y":0.34},{"k":4,"b":"H","x":30,"y":0.26},{"k":4,"b":"H","x":33,"y":0.26},{"k":4,"b":"H","x":36,"y":0.26},{"k":4,"b":"H","x":39,"y":0.13},
{"k":4,"b":"H","x":42,"y":-0.04},{"k":4,"b":"H","x":45,"y":-0.22},{"k":4,"b":"H","x":48,"y":-0.17},{"k":4,"b":"H","x":51,"y":-0.28},{"k":4,"b":"H","x":54,"y":-0.30},{"k":4,"b":"H","x":57,"y":-0.34},{"k":4,"b":"H","x":60,"y":-0.34},{"k":4,"b":"H","x":63,"y":-0.28},{"k":4,"b":"H","x":66,"y":-0.40},{"k":4,"b":"H","x":69,"y":-0.52},
{"k":4,"b":"H","x":72,"y":-0.17},{"k":4,"b":"H","x":75,"y":-0.26},{"k":4,"b":"H","x":78,"y":-0.30},
{"k":4,"b":"K","x":-78,"y":0.10},{"k":4,"b":"K","x":-75,"y":0.20},{"k":4,"b":"K","x":-72,"y":0.18},{"k":4,"b":"K","x":-69,"y":0.14},{"k":4,"b":"K","x":-66,"y":-0.17},{"k":4,"b":"K","x":-63,"y":-0.13},{"k":4,"b":"K","x":-60,"y":-0.07},{"k":4,"b":"K","x":-57,"y":-0.22},{"k":4,"b":"K","x":-54,"y":-0.17},{"k":4,"b":"K","x":-51,"y":-0.17},
{"k":4,"b":"K","x":-48,"y":-0.20},{"k":4,"b":"K","x":-45,"y":-0.22},{"k":4,"b":"K","x":-42,"y":-0.24},{"k":4,"b":"K","x":-39,"y":-0.24},{"k":4,"b":"K","x":-36,"y":-0.26},{"k":4,"b":"K","x":-33,"y":-0.22},{"k":4,"b":"K","x":-30,"y":-0.37},{"k":4,"b":"K","x":-27,"y":-0.39},{"k":4,"b":"K","x":-24,"y":-0.37},{"k":4,"b":"K","x":-21,"y":-0.43},
{"k":4,"b":"K","x":-18,"y":-0.45},{"k":4,"b":"K","x":-15,"y":-0.30},{"k":4,"b":"K","x":-12,"y":-0.28},{"k":4,"b":"K","x":-9,"y":-0.09},{"k":4,"b":"K","x":-6,"y":-0.09},{"k":4,"b":"K","x":-3,"y":0.10},{"k":4,"b":"K","x":0,"y":0.26},{"k":4,"b":"K","x":3,"y":0.43},{"k":4,"b":"K","x":6,"y":0.43},{"k":4,"b":"K","x":9,"y":0.52},
{"k":4,"b":"K","x":12,"y":0.52},{"k":4,"b":"K","x":15,"y":0.58},{"k":4,"b":"K","x":18,"y":0.60},{"k":4,"b":"K","x":21,"y":0.56},{"k":4,"b":"K","x":24,"y":0.69},{"k":4,"b":"K","x":27,"y":0.47},{"k":4,"b":"K","x":30,"y":0.34},{"k":4,"b":"K","x":33,"y":0.30},{"k":4,"b":"K","x":36,"y":0.17},{"k":4,"b":"K","x":39,"y":-0.09},
{"k":4,"b":"K","x":42,"y":-0.13},{"k":4,"b":"K","x":45,"y":-0.16},{"k":4,"b":"K","x":48,"y":-0.16},{"k":4,"b":"K","x":51,"y":-0.20},{"k":4,"b":"K","x":54,"y":-0.16},{"k":4,"b":"K","x":57,"y":-0.28},{"k":4,"b":"K","x":60,"y":-0.26},{"k":4,"b":"K","x":63,"y":-0.26},{"k":4,"b":"K","x":66,"y":-0.26},{"k":4,"b":"K","x":69,"y":-0.26},
{"k":4,"b":"K","x":72,"y":-0.10},{"k":4,"b":"K","x":75,"y":-0.09},{"k":4,"b":"K","x":78,"y":-0.13}
]
},
"vconcat": [
{
 "width": 234, "height": 77,
 "resolve": {"axis": {"x": "independent", "y": "independent"}},
 "layer": [
  {"data": {"name": "sig"}, "transform": [{"filter": "datum.k == 1"}],
   "mark": {"type": "line", "strokeWidth": 1, "opacity": 0.35},
   "encoding": {
    "x": {"field": "x", "type": "quantitative", "scale": {"domain": [-80, 80], "nice": false}, "axis": {"orient": "bottom", "values": [-80,-60,-40,-20,0,20,40,60,80], "labels": false, "title": null}},
    "y": {"field": "y", "type": "quantitative", "scale": {"domain": [-0.8, 1.2], "nice": false, "zero": false}, "axis": {"orient": "left", "values": [-1,-0.5,0,0.5,1], "format": ".1f", "labelExpr": "replace(datum.label, '-', '\u2212')", "title": null}},
    "color": {"field": "b", "type": "nominal", "scale": {"domain": ["V","J","H","K"], "range": ["#458b74","#a020f0","#ffa500","#ff0000"]}, "legend": null}
   }},
  {"data": {"name": "pts"}, "transform": [{"filter": "datum.k == 1"}],
   "mark": {"type": "circle", "size": 22, "opacity": 1},
   "encoding": {
    "x": {"field": "x", "type": "quantitative", "scale": {"domain": [-80, 80], "nice": false}, "axis": {"orient": "top", "values": [-80,-60,-40,-20,0,20,40,60,80], "labels": false, "title": null}},
    "y": {"field": "y", "type": "quantitative", "scale": {"domain": [-0.8, 1.2], "nice": false, "zero": false}, "axis": {"orient": "right", "values": [-1,-0.5,0,0.5,1], "labels": false, "title": null}},
    "color": {"field": "b", "type": "nominal", "legend": null}
   }},
  {"data": {"values": [{"label": "k1"}]},
   "mark": {"type": "text", "align": "left", "baseline": "middle", "fontSize": 16, "fontStyle": "italic"},
   "encoding": {"x": {"datum": -74, "type": "quantitative", "axis": null}, "y": {"datum": 0.84, "type": "quantitative", "axis": null}, "text": {"field": "label"}}}
 ]
},
{
 "width": 234, "height": 78,
 "resolve": {"axis": {"x": "independent", "y": "independent"}},
 "layer": [
  {"data": {"name": "sig"}, "transform": [{"filter": "datum.k == 2"}],
   "mark": {"type": "line", "strokeWidth": 1, "opacity": 0.35},
   "encoding": {
    "x": {"field": "x", "type": "quantitative", "scale": {"domain": [-80, 80], "nice": false}, "axis": {"orient": "bottom", "values": [-80,-60,-40,-20,0,20,40,60,80], "labels": false, "title": null}},
    "y": {"field": "y", "type": "quantitative", "scale": {"domain": [-0.83, 1.2], "nice": false, "zero": false}, "axis": {"orient": "left", "values": [-1,-0.5,0,0.5,1], "format": ".1f", "labelExpr": "replace(datum.label, '-', '\u2212')", "title": null}},
    "color": {"field": "b", "type": "nominal", "scale": {"domain": ["V","J","H","K"], "range": ["#458b74","#a020f0","#ffa500","#ff0000"]}, "legend": null}
   }},
  {"data": {"name": "pts"}, "transform": [{"filter": "datum.k == 2"}],
   "mark": {"type": "circle", "size": 22, "opacity": 1},
   "encoding": {
    "x": {"field": "x", "type": "quantitative", "scale": {"domain": [-80, 80], "nice": false}, "axis": {"orient": "top", "values": [-80,-60,-40,-20,0,20,40,60,80], "labels": false, "title": null}},
    "y": {"field": "y", "type": "quantitative", "scale": {"domain": [-0.83, 1.2], "nice": false, "zero": false}, "axis": {"orient": "right", "values": [-1,-0.5,0,0.5,1], "labels": false, "title": null}},
    "color": {"field": "b", "type": "nominal", "legend": null}
   }},
  {"data": {"values": [{"label": "k2"}]},
   "mark": {"type": "text", "align": "left", "baseline": "middle", "fontSize": 16, "fontStyle": "italic"},
   "encoding": {"x": {"datum": -74, "type": "quantitative", "axis": null}, "y": {"datum": 0.8, "type": "quantitative", "axis": null}, "text": {"field": "label"}}}
 ]
},
{
 "width": 234, "height": 77,
 "resolve": {"axis": {"x": "independent", "y": "independent"}},
 "layer": [
  {"data": {"name": "sig"}, "transform": [{"filter": "datum.k == 3"}],
   "mark": {"type": "line", "strokeWidth": 1, "opacity": 0.35},
   "encoding": {
    "x": {"field": "x", "type": "quantitative", "scale": {"domain": [-80, 80], "nice": false}, "axis": {"orient": "bottom", "values": [-80,-60,-40,-20,0,20,40,60,80], "labels": false, "title": null}},
    "y": {"field": "y", "type": "quantitative", "scale": {"domain": [-0.8, 1.2], "nice": false, "zero": false}, "axis": {"orient": "left", "values": [-1,-0.5,0,0.5,1], "format": ".1f", "labelExpr": "replace(datum.label, '-', '\u2212')", "title": "DCF", "titleFontSize": 17, "titleX": -46, "titleY": 22, "titleAngle": 270, "titleAlign": "center", "titleBaseline": "middle"}},
    "color": {"field": "b", "type": "nominal", "scale": {"domain": ["V","J","H","K"], "range": ["#458b74","#a020f0","#ffa500","#ff0000"]}, "legend": null}
   }},
  {"data": {"name": "pts"}, "transform": [{"filter": "datum.k == 3"}],
   "mark": {"type": "circle", "size": 22, "opacity": 1},
   "encoding": {
    "x": {"field": "x", "type": "quantitative", "scale": {"domain": [-80, 80], "nice": false}, "axis": {"orient": "top", "values": [-80,-60,-40,-20,0,20,40,60,80], "labels": false, "title": null}},
    "y": {"field": "y", "type": "quantitative", "scale": {"domain": [-0.8, 1.2], "nice": false, "zero": false}, "axis": {"orient": "right", "values": [-1,-0.5,0,0.5,1], "labels": false, "title": null}},
    "color": {"field": "b", "type": "nominal", "legend": null}
   }},
  {"data": {"values": [{"label": "k3"}]},
   "mark": {"type": "text", "align": "left", "baseline": "middle", "fontSize": 16, "fontStyle": "italic"},
   "encoding": {"x": {"datum": -74, "type": "quantitative", "axis": null}, "y": {"datum": 0.82, "type": "quantitative", "axis": null}, "text": {"field": "label"}}}
 ]
},
{
 "width": 234, "height": 94,
 "resolve": {"axis": {"x": "independent", "y": "independent"}},
 "layer": [
  {"data": {"name": "sig"}, "transform": [{"filter": "datum.k == 4"}],
   "mark": {"type": "line", "strokeWidth": 1, "opacity": 0.35},
   "encoding": {
    "x": {"field": "x", "type": "quantitative", "scale": {"domain": [-80, 80], "nice": false}, "axis": {"orient": "bottom", "values": [-80,-60,-40,-20,0,20,40,60,80], "format": "d", "labelExpr": "replace(datum.label, '-', '\u2212')", "title": "Lag of V,J,H,K behind B-band (days)", "titleFontSize": 14.5, "titlePadding": 14}},
    "y": {"field": "y", "type": "quantitative", "scale": {"domain": [-1.2, 1.2], "nice": false, "zero": false}, "axis": {"orient": "left", "values": [-1,-0.5,0,0.5,1], "format": ".1f", "labelExpr": "replace(datum.label, '-', '\u2212')", "title": null}},
    "color": {"field": "b", "type": "nominal", "scale": {"domain": ["V","J","H","K"], "range": ["#458b74","#a020f0","#ffa500","#ff0000"]}, "legend": null}
   }},
  {"data": {"name": "pts"}, "transform": [{"filter": "datum.k == 4"}],
   "mark": {"type": "circle", "size": 22, "opacity": 1},
   "encoding": {
    "x": {"field": "x", "type": "quantitative", "scale": {"domain": [-80, 80], "nice": false}, "axis": {"orient": "top", "values": [-80,-60,-40,-20,0,20,40,60,80], "labels": false, "title": null}},
    "y": {"field": "y", "type": "quantitative", "scale": {"domain": [-1.2, 1.2], "nice": false, "zero": false}, "axis": {"orient": "right", "values": [-1,-0.5,0,0.5,1], "labels": false, "title": null}},
    "color": {"field": "b", "type": "nominal", "legend": null}
   }},
  {"data": {"values": [{"label": "k4"}]},
   "mark": {"type": "text", "align": "left", "baseline": "middle", "fontSize": 16, "fontStyle": "italic"},
   "encoding": {"x": {"datum": -74, "type": "quantitative", "axis": null}, "y": {"datum": 0.8, "type": "quantitative", "axis": null}, "text": {"field": "label"}}}
 ]
}
]
}
